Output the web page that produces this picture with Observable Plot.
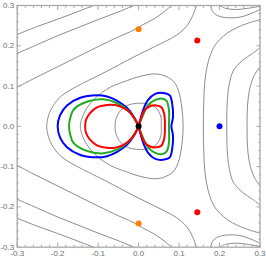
<!DOCTYPE html>
<html><head><meta charset="utf-8">
<script src="https://cdn.jsdelivr.net/npm/d3@7"></script>
<script src="https://cdn.jsdelivr.net/npm/@observablehq/plot@0.6"></script>
<style>html,body{margin:0;padding:0;background:#fff;} #chart svg{display:block;}</style>
</head><body><div id="chart"></div>
<script>
// ---- tick values and labels ----
const majorTicks = [-0.3, -0.2, -0.1, 0, 0.1, 0.2, 0.3];
const tickLabels = ["-0.3", "-0.2", "-0.1", "0.0", "0.1", "0.2", "0.3"];
const minorTicks = [-0.28, -0.26, -0.24, -0.22, -0.18, -0.16, -0.14, -0.12, -0.08, -0.06, -0.04, -0.02,
  0.02, 0.04, 0.06, 0.08, 0.12, 0.14, 0.16, 0.18, 0.22, 0.24, 0.26, 0.28];

// ---- gray contour lines (upper halves; the plot is mirror-symmetric in y) ----
const loopInner = [[0.056,0],[0.055,0.024],[0.044,0.045],[0.02,0.056],[-0.005,0.057],[-0.03,0.051],[-0.048,0.035],[-0.057,0.015],[-0.058,0]];
const loopOuter = [[0.11,0],[0.107,0.045],[0.098,0.09],[0.085,0.113],[0.06,0.127],[0.036,0.13],[0,0.123],[-0.03,0.113],[-0.07,0.097],[-0.105,0.072],[-0.128,0.045],[-0.14,0.02],[-0.144,0]];
const arcLeft = [[-0.227,0],[-0.223,0.025],[-0.212,0.05],[-0.19,0.076],[-0.153,0.099],[-0.124,0.114],[-0.08,0.136],[-0.014,0.171],[0.04,0.198],[0.093,0.226],[0.118,0.248],[0.133,0.273],[0.143,0.3]];
const arcRight1 = [[0.16,0],[0.161,0.06],[0.164,0.115],[0.172,0.16],[0.185,0.195],[0.2,0.215],[0.22,0.232],[0.245,0.246],[0.27,0.256],[0.3,0.265]];
const arcRight2 = [[0.218,0],[0.219,0.06],[0.224,0.105],[0.235,0.14],[0.257,0.164],[0.28,0.18],[0.3,0.195]];
const arcRight3 = [[0.268,0],[0.269,0.05],[0.274,0.09],[0.285,0.125],[0.3,0.148]];
const diag1 = [[-0.3,0.228],[-0.25,0.248],[-0.2,0.266],[-0.15,0.285],[-0.112,0.3]];
const diag2 = [[-0.3,0.181],[-0.25,0.203],[-0.2,0.225],[-0.15,0.245],[-0.1,0.265],[-0.05,0.284],[-0.012,0.3]];
const diag3 = [[-0.3,0.097],[-0.264,0.116],[-0.2,0.148],[-0.15,0.173],[-0.1,0.198],[-0.05,0.222],[-0.014,0.238],[0.01,0.252],[0.04,0.268],[0.065,0.286],[0.081,0.3]];
const cornerA = [[0.178,0.3],[0.183,0.285],[0.195,0.275],[0.215,0.27],[0.25,0.271],[0.28,0.281],[0.3,0.29]];
const cornerB = [[0.2,0.3],[0.215,0.293],[0.24,0.29],[0.27,0.293],[0.3,0.298]];

// ---- coloured figure-eight curves: upper halves of each lobe, from the origin to the far end on y=0 ----
const blueLeft = [[0,0],[-0.012,0.024],[-0.029,0.046],[-0.054,0.064],[-0.078,0.074],[-0.103,0.077],[-0.144,0.071],[-0.177,0.052],[-0.194,0.028],[-0.2,0]];
const blueRight = [[0,0],[0.011,0.04],[0.023,0.065],[0.04,0.08],[0.06,0.083],[0.077,0.077],[0.083,0.056],[0.085,0.023],[0.081,0]];
const greenLeft = [[0,0],[-0.011,0.02],[-0.025,0.038],[-0.054,0.058],[-0.087,0.067],[-0.128,0.061],[-0.161,0.041],[-0.169,0.02],[-0.172,0]];
const greenRight = [[0,0],[0.011,0.028],[0.023,0.052],[0.04,0.065],[0.056,0.069],[0.069,0.063],[0.075,0.04],[0.075,0]];
const redLeft = [[0,0],[-0.009,0.018],[-0.021,0.034],[-0.038,0.046],[-0.058,0.053],[-0.078,0.053],[-0.103,0.047],[-0.12,0.033],[-0.13,0.016],[-0.132,0]];
const redRight = [[0,0],[0.007,0.023],[0.015,0.04],[0.028,0.05],[0.044,0.052],[0.056,0.048],[0.063,0.032],[0.065,0.012],[0.065,0]];

// ---- marked points ----
const pointX = [0, 0, 0.145, 0.145, 0.2, 0];
const pointY = [0.241, -0.241, 0.213, -0.213, 0, 0];
const pointColor = ["#ff8000", "#ff8000", "#ff0000", "#ff0000", "#0000ff", "#000000"];

// ---- helpers to assemble full paths from the halves ----
const mirror = pts => pts.map(([x, y]) => [x, -y]);
const throughAxis = top => [...mirror(top.slice(1)).reverse(), ...top];
const closedLoop = top => [...top, ...mirror(top).reverse().slice(1, -1)];
const lobe = top => [...top, ...mirror(top).reverse().slice(1)];
const rows = (id, pts) => pts.map(([x, y]) => ({id, x, y}));

const grayOpen = [
  ...rows("arcLeft", throughAxis(arcLeft)),
  ...rows("r1", throughAxis(arcRight1)),
  ...rows("r2", throughAxis(arcRight2)),
  ...rows("r3", throughAxis(arcRight3)),
  ...rows("d1a", diag1), ...rows("d1b", mirror(diag1)),
  ...rows("d2a", diag2), ...rows("d2b", mirror(diag2)),
  ...rows("d3a", diag3), ...rows("d3b", mirror(diag3)),
  ...rows("ca", cornerA), ...rows("cb", mirror(cornerA)),
  ...rows("ba", cornerB), ...rows("bb", mirror(cornerB))
];
const grayClosed = [...rows("inner", closedLoop(loopInner)), ...rows("outer", closedLoop(loopOuter))];
const blue = [...rows("bl", lobe(blueLeft)), ...rows("br", lobe(blueRight))];
const green = [...rows("gl", lobe(greenLeft)), ...rows("gr", lobe(greenRight))];
const red = [...rows("rl", lobe(redLeft)), ...rows("rr", lobe(redRight))];
const points = pointX.map((x, i) => ({x, y: pointY[i], c: pointColor[i]}));

const frameColor = "#a8a8a8";
const labelColor = "#6e6e6e";
const fmt = d => tickLabels[majorTicks.indexOf(d)];

const tickAxes = [];
for (const anchor of ["bottom", "top"]) {
  tickAxes.push(Plot.axisX(majorTicks, {anchor, tickSize: -4, fill: "none", stroke: frameColor, label: null}));
  tickAxes.push(Plot.axisX(minorTicks, {anchor, tickSize: -2, fill: "none", stroke: frameColor, label: null}));
}
for (const anchor of ["left", "right"]) {
  tickAxes.push(Plot.axisY(majorTicks, {anchor, tickSize: -4, fill: "none", stroke: frameColor, label: null}));
  tickAxes.push(Plot.axisY(minorTicks, {anchor, tickSize: -2, fill: "none", stroke: frameColor, label: null}));
}

const chart = Plot.plot({
  width: 266,
  height: 261,
  marginLeft: 16.7,
  marginRight: 6.5,
  marginTop: 5,
  marginBottom: 14.3,
  style: {fontFamily: "'Liberation Sans', Arial, sans-serif", fontSize: "8px", background: "#fff"},
  x: {domain: [-0.3, 0.3], axis: null},
  y: {domain: [-0.3, 0.3], axis: null},
  marks: [
    Plot.line(grayOpen, {x: "x", y: "y", z: "id", curve: "catmull-rom", stroke: "#8c8c8c", strokeWidth: 1}),
    Plot.line(grayClosed, {x: "x", y: "y", z: "id", curve: "catmull-rom-closed", stroke: "#8c8c8c", strokeWidth: 1}),
    Plot.line(blue, {x: "x", y: "y", z: "id", curve: "catmull-rom", stroke: "#0000ff", strokeWidth: 2}),
    Plot.line(green, {x: "x", y: "y", z: "id", curve: "catmull-rom", stroke: "#22aa22", strokeWidth: 2}),
    Plot.line(red, {x: "x", y: "y", z: "id", curve: "catmull-rom", stroke: "#ff0000", strokeWidth: 2}),
    Plot.dot(points, {x: "x", y: "y", fill: d => d.c, r: 3, stroke: null}),
    Plot.frame({stroke: frameColor, strokeWidth: 1.3}),
    ...tickAxes,
    Plot.axisX(majorTicks, {anchor: "bottom", tickSize: 0, tickPadding: 3, tickFormat: fmt, fill: labelColor, label: null, fontSize: 8}),
    Plot.axisY(majorTicks, {anchor: "left", tickSize: 0, tickPadding: 3, tickFormat: fmt, fill: labelColor, label: null, fontSize: 8})
  ]
});
document.getElementById("chart").append(chart);
</script>
</body></html>
